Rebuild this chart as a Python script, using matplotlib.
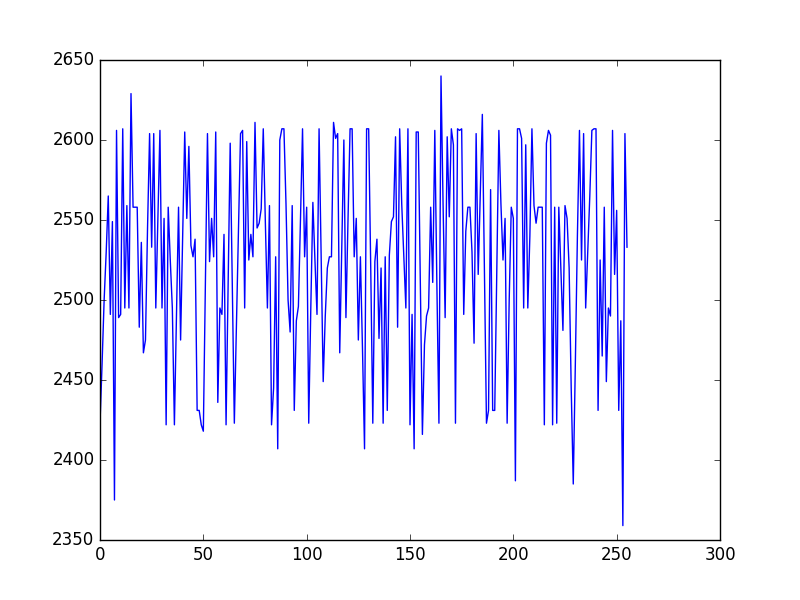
import matplotlib
matplotlib.use("Agg")
import matplotlib.pyplot as plt

plt.style.use("classic")

# values, one per sample index
values = [
    2423, 2460, 2500, 2530, 2565, 2491, 2549, 2375, 2606, 2489,
    2491, 2607, 2495, 2559, 2495, 2629, 2558, 2558, 2558, 2483,
    2536, 2467, 2475, 2545, 2604, 2533, 2604, 2495, 2550, 2606,
    2495, 2551, 2422, 2558, 2525, 2495, 2422, 2490, 2558, 2475,
    2540, 2605, 2551, 2596, 2534, 2527, 2538, 2431, 2431, 2422,
    2418, 2510, 2604, 2524, 2551, 2527, 2605, 2436, 2495, 2491,
    2541, 2422, 2510, 2598, 2510, 2423, 2483, 2544, 2604, 2606,
    2495, 2599, 2525, 2541, 2527, 2611, 2545, 2548, 2557, 2607,
    2549, 2495, 2559, 2422, 2445, 2527, 2407, 2600, 2607, 2607,
    2560, 2500, 2480, 2559, 2431, 2487, 2496, 2550, 2607, 2527,
    2558, 2423, 2495, 2561, 2525, 2491, 2607, 2530, 2449, 2490,
    2520, 2527, 2527, 2611, 2601, 2604, 2467, 2535, 2600, 2489,
    2550, 2607, 2607, 2527, 2551, 2475, 2527, 2470, 2407, 2607,
    2607, 2520, 2423, 2524, 2538, 2476, 2520, 2423, 2527, 2431,
    2528, 2549, 2552, 2602, 2483, 2607, 2560, 2527, 2495, 2607,
    2422, 2491, 2407, 2605, 2605, 2510, 2416, 2472, 2490, 2495,
    2558, 2511, 2606, 2510, 2423, 2640, 2560, 2489, 2602, 2552,
    2607, 2597, 2423, 2607, 2606, 2607, 2491, 2543, 2558, 2558,
    2530, 2473, 2604, 2516, 2565, 2616, 2520, 2423, 2431, 2569,
    2431, 2431, 2520, 2606, 2560, 2525, 2551, 2423, 2500, 2558,
    2551, 2387, 2607, 2607, 2601, 2495, 2597, 2495, 2540, 2607,
    2559, 2548, 2558, 2558, 2558, 2422, 2598, 2606, 2603, 2422,
    2558, 2423, 2558, 2520, 2481, 2559, 2551, 2520, 2445, 2385,
    2460, 2540, 2606, 2525, 2604, 2495, 2530, 2565, 2606, 2607,
    2607, 2431, 2525, 2465, 2558, 2449, 2495, 2490, 2606, 2516,
    2556, 2431, 2487, 2359, 2604, 2533,
]

fig = plt.figure(figsize=(8, 6), dpi=100)
ax = fig.add_subplot(111)
ax.plot(values, "b-", linewidth=1)
ax.set_xlim(0, 300)
ax.set_ylim(2350, 2650)

fig.savefig("out.png", dpi=100)
